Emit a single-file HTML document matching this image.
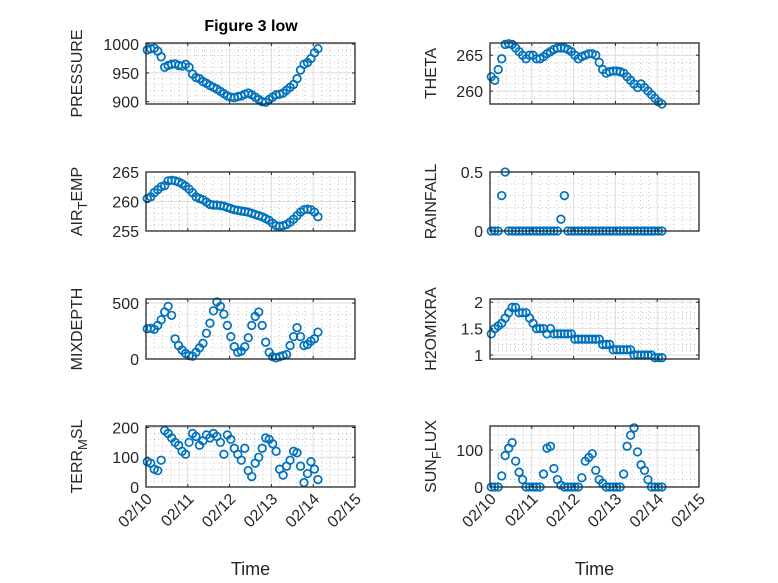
<!DOCTYPE html>
<html><head><meta charset="utf-8"><style>
html,body{margin:0;padding:0;background:#fff;}
svg{display:block;font-family:"Liberation Sans",sans-serif;}
</style></head><body>
<svg id="fig" width="778" height="583" viewBox="0 0 778 583" xmlns="http://www.w3.org/2000/svg">
<rect x="0" y="0" width="778" height="583" fill="#fff"/>
<text x="251" y="31" text-anchor="middle" font-size="16" font-weight="bold" fill="#000">Figure 3 low</text>
</svg>
<script>
const xTickLabels = ["02/10","02/11","02/12","02/13","02/14","02/15"];
const pressure = [990,992,993,988,978,960,963,965,966,963,962,965,960,948,942,940,935,932,928,925,922,918,914,910,908,907,909,910,913,915,912,908,904,900,899,904,908,912,913,915,920,925,930,940,955,965,968,975,985,992];
const airTemp = [260.5,260.8,261.5,262,262.5,262.7,263.5,263.6,263.5,263.3,263,262.6,262.1,261.5,260.8,260.5,260.3,259.9,259.5,259.4,259.4,259.3,259.2,259,258.8,258.6,258.5,258.4,258.3,258.2,258,257.8,257.6,257.4,257.1,256.8,256.3,255.9,255.8,255.9,256.1,256.5,257,257.6,258.2,258.6,258.7,258.6,258.2,257.4];
const mixDepth = [270,275,265,300,350,420,470,390,180,120,80,50,30,25,60,100,140,230,320,430,510,470,400,300,200,110,60,70,110,190,300,380,420,300,150,60,20,10,20,30,40,120,200,280,200,120,130,160,180,240];
const terrMsl = [85,80,60,55,90,190,180,165,150,140,120,110,150,180,170,140,155,175,165,180,170,150,110,175,160,130,110,90,130,55,35,80,100,130,165,160,145,120,60,40,70,90,120,115,70,15,45,85,60,25];
const theta = [262,261.5,263,264.5,266.5,266.6,266.5,266,265.5,265,264.5,265,265,264.5,264.5,264.8,265.2,265.5,265.8,266,266,266,265.8,265.5,265,264.5,264.8,265,265.2,265.2,265,264,263,262.5,262.7,262.8,262.8,262.7,262.5,262,261.5,261,260.5,261,260.5,260,259.5,259,258.5,258.2];
const rainfall = [0,0,0,0.3,0.5,0,0,0,0,0,0,0,0,0,0,0,0,0,0,0,0.1,0.3,0,0,0,0,0,0,0,0,0,0,0,0,0,0,0,0,0,0,0,0,0,0,0,0,0,0,0,0];
const h2o = [1.4,1.5,1.55,1.6,1.7,1.8,1.9,1.9,1.8,1.8,1.8,1.7,1.6,1.5,1.5,1.5,1.4,1.5,1.4,1.4,1.4,1.4,1.4,1.4,1.3,1.3,1.3,1.3,1.3,1.3,1.3,1.3,1.2,1.2,1.2,1.1,1.1,1.1,1.1,1.1,1.1,1.0,1.0,1.0,1.0,1.0,1.0,0.95,0.95,0.95];
const sunLux = [0,0,0,30,85,105,120,70,40,20,0,0,0,0,0,35,105,110,50,20,5,0,0,0,0,0,25,70,80,90,45,20,10,0,0,0,0,0,35,110,140,160,95,60,45,20,0,0,0,0];

const NS="http://www.w3.org/2000/svg";
const svg=document.getElementById('fig');
function el(tag,attrs,parent){const e=document.createElementNS(NS,tag);for(const k in attrs)e.setAttribute(k,attrs[k]);(parent||svg).appendChild(e);return e;}
const times = pressure.map((_,i)=>0.03+i/12);

const panels=[
 {name:'pressure',data:pressure,x0:146,y0:43,y1:104,ymin:896,ymax:1002,ticks:[900,950,1000],minor:10,label:['PRESSURE'],lx:82,xl:false},
 {name:'air-temp',data:airTemp,x0:146,y0:172,y1:231,ymin:255,ymax:265,ticks:[255,260,265],minor:1,label:['AIR','T','EMP'],lx:82,xl:false},
 {name:'mixdepth',data:mixDepth,x0:146,y0:299,y1:359,ymin:0,ymax:536,ticks:[0,500],minor:100,label:['MIXDEPTH'],lx:82,xl:false},
 {name:'terr-msl',data:terrMsl,x0:146,y0:426,y1:487,ymin:0,ymax:205,ticks:[0,100,200],minor:20,label:['TERR','M','SL'],lx:82,xl:true},
 {name:'theta',data:theta,x0:490,y0:43,y1:104,ymin:258.2,ymax:266.7,ticks:[260,265],minor:1,label:['THETA'],lx:436,xl:false},
 {name:'rainfall',data:rainfall,x0:490,y0:172,y1:231,ymin:0,ymax:0.5,ticks:[0,0.5],minor:0.1,label:['RAINFALL'],lx:436,xl:false},
 {name:'h2omixra',data:h2o,x0:490,y0:299,y1:359,ymin:0.925,ymax:2.06,ticks:[1,1.5,2],minor:0.1,label:['H2OMIXRA'],lx:436,xl:false},
 {name:'sun-lux',data:sunLux,x0:490,y0:426,y1:487,ymin:0,ymax:165,ticks:[0,100],minor:20,label:['SUN','F','LUX'],lx:436,xl:true}
];
const W=209, days=5;
panels.forEach(p=>{
 const g=el('g',{});
 
 
 const xs=d=>p.x0+d*W/days;
 const ys=v=>p.y1-(v-p.ymin)/(p.ymax-p.ymin)*(p.y1-p.y0);
 el('rect',{x:p.x0,y:p.y0,width:W,height:p.y1-p.y0,fill:'#fff'},g);
 for(let d=0;d<=days;d+=0.2){if(Math.abs(d-Math.round(d))<1e-6)continue;el('line',{x1:xs(d),x2:xs(d),y1:p.y0,y2:p.y1,stroke:'#b0b0b0','stroke-width':0.7,'stroke-dasharray':'1 3'},g);}
 const mStart=Math.ceil(p.ymin/p.minor)*p.minor;
 for(let v=mStart;v<=p.ymax+1e-9;v+=p.minor){if(p.ticks.some(t=>Math.abs(t-v)<1e-6))continue;el('line',{x1:p.x0,x2:p.x0+W,y1:ys(v),y2:ys(v),stroke:'#b0b0b0','stroke-width':0.7,'stroke-dasharray':'1 3'},g);}
 for(let d=1;d<days;d++)el('line',{x1:xs(d),x2:xs(d),y1:p.y0,y2:p.y1,stroke:'#dedede','stroke-width':1},g);
 p.ticks.forEach(t=>{el('line',{x1:p.x0,x2:p.x0+W,y1:ys(t),y2:ys(t),stroke:'#dedede','stroke-width':1},g);});
 p.data.forEach((v,i)=>{
  const c=el('circle',{cx:xs(times[i]).toFixed(2),cy:ys(v).toFixed(2),r:3.8,fill:'none',stroke:'#0072BD','stroke-width':1.7},g);
  
  
 });
 el('rect',{x:p.x0,y:p.y0,width:W,height:p.y1-p.y0,fill:'none',stroke:'#262626','stroke-width':1.3},g);
 for(let d=0;d<=days;d++){el('line',{x1:xs(d),x2:xs(d),y1:p.y1,y2:p.y1-3,stroke:'#262626'},g);el('line',{x1:xs(d),x2:xs(d),y1:p.y0,y2:p.y0+3,stroke:'#262626'},g);}
 p.ticks.forEach(t=>{
  el('line',{x1:p.x0,x2:p.x0+3,y1:ys(t),y2:ys(t),stroke:'#262626'},g);
  el('line',{x1:p.x0+W,x2:p.x0+W-3,y1:ys(t),y2:ys(t),stroke:'#262626'},g);
  const tx=el('text',{x:p.x0-7,y:ys(t)+6,'text-anchor':'end','font-size':16,fill:'#262626'},g);
  tx.textContent=String(t);
  
  
 });
 const cy=(p.y0+p.y1)/2;
 const yl=el('text',{x:0,y:0,'text-anchor':'middle','font-size':16,fill:'#262626',transform:`translate(${p.lx},${cy}) rotate(-90)`},g);
 
 
 if(p.label.length===1){yl.textContent=p.label[0];}
 else{
  const a=el('tspan',{},yl);a.textContent=p.label[0];
  const b=el('tspan',{dy:5,'font-size':13},yl);b.textContent=p.label[1];
  const c=el('tspan',{dy:-5},yl);c.textContent=p.label[2];
 }
 if(p.xl){
  xTickLabels.forEach((s,d)=>{
   const t=el('text',{x:0,y:0,'text-anchor':'end','font-size':16,fill:'#262626',transform:`translate(${xs(d)+7},${p.y1+13}) rotate(-45)`},g);
   t.textContent=s;
   
   
  });
  const xt=el('text',{x:p.x0+W/2,y:575,'text-anchor':'middle','font-size':18,fill:'#262626'},g);
  xt.textContent='Time';
  
  
 }
});
</script>
</body></html>
